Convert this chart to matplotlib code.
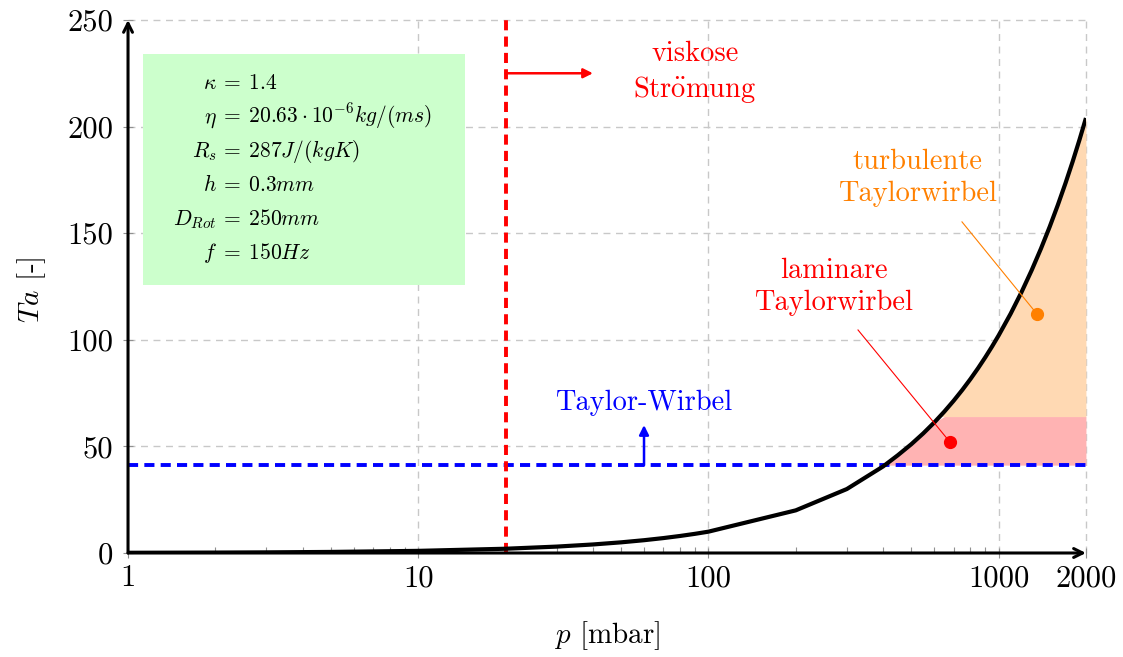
import numpy as np
import matplotlib
matplotlib.use("Agg")
import matplotlib.pyplot as plt
from matplotlib.patches import Rectangle
from matplotlib.ticker import FixedLocator, NullFormatter

plt.rcParams["font.family"] = ["cmr10", "DejaVu Serif"]
plt.rcParams["mathtext.fontset"] = "cm"
plt.rcParams["axes.formatter.use_mathtext"] = True
plt.rcParams["axes.unicode_minus"] = False

# Taylor number over pressure
P_MBAR = [1, 2, 3, 5, 10, 20, 30, 40, 50, 60, 70, 80, 90, 100, 200, 300, 400,
          450, 500, 550, 600, 650, 700, 750, 800, 850, 900, 950, 1000, 1100,
          1200, 1300, 1400, 1500, 1600, 1700, 1800, 1900, 2000]
TA = [0.1, 0.2, 0.3, 0.5, 1.0, 2.0, 3.0, 4.0, 5.0, 6.0, 7.0, 8.0, 9.0, 10.0,
      20.0, 30.0, 40.6, 45.9, 51.0, 56.1, 61.2, 66.3, 71.4, 76.5, 81.6, 86.7,
      91.8, 96.9, 102.0, 112.2, 122.4, 132.6, 142.8, 153.0, 163.2, 173.4,
      183.6, 193.8, 204.0]

TA_CRIT = 41.2      # onset of Taylor vortices
TA_TURB = 64.0      # transition to turbulent vortices
P_VISC = 20         # upper limit of viscous flow [mbar]

X_TICKS = [1, 10, 100, 1000, 2000]
X_TICKLABELS = ["1", "10", "100", "1000", "2000"]
Y_TICKS = [0, 50, 100, 150, 200, 250]
Y_TICKLABELS = ["0", "50", "100", "150", "200", "250"]

PARAM_LHS = [r"$\kappa$", r"$\eta$", r"$R_s$", r"$h$", r"$D_{Rot}$", r"$f$"]
PARAM_RHS = [r"$=\:1.4$", r"$=\:20.63\cdot10^{-6}kg/(ms)$", r"$=\:287J/(kgK)$",
             r"$=\:0.3mm$", r"$=\:250mm$", r"$=\:150Hz$"]

RED = "#ff0000"
BLUE = "#0000ff"
ORANGE = "#ff8000"
PINK_FILL = "#ffb3b3"
ORANGE_FILL = "#ffd9b3"
GREEN_BOX = "#ccffcc"
GRID = "#c8c8c8"
TICK = "#909090"

fig = plt.figure(figsize=(11.23, 6.57), dpi=100)
ax = fig.add_axes([0.114, 0.1583, 0.853, 0.8113])

p = np.array(P_MBAR)
ta = np.array(TA)

ax.set_xscale("log")
ax.set_xlim(1, 2000)
ax.set_ylim(0, 250)

# grid
for gx in X_TICKS[1:]:
    ax.axvline(gx, color=GRID, lw=1.0, ls=(0, (5, 4)), zorder=0, clip_on=False)
for gy in Y_TICKS[1:]:
    ax.axhline(gy, color=GRID, lw=1.0, ls=(0, (5, 4)), zorder=0, clip_on=False)

# regions right of the curve
ax.fill_between(p, TA_CRIT, np.minimum(ta, TA_TURB), where=ta >= TA_CRIT,
                interpolate=True, color=PINK_FILL, lw=0, zorder=1)
ax.fill_between(p, TA_TURB, ta, where=ta >= TA_TURB,
                interpolate=True, color=ORANGE_FILL, lw=0, zorder=1)

# parameter box
ax.add_patch(Rectangle((1.126, 125.7), 14.5 - 1.126, 234 - 125.7,
                       facecolor=GREEN_BOX, edgecolor="none", zorder=1))
for i, (lhs, rhs) in enumerate(zip(PARAM_LHS, PARAM_RHS)):
    yb = 217.6 - i * 15.9
    ax.text(2.02, yb, lhs, ha="right", va="baseline", fontsize=15.5, zorder=5)
    ax.text(2.07, yb, rhs, ha="left", va="baseline", fontsize=15.5, zorder=5)

# critical lines
ax.axhline(TA_CRIT, color=BLUE, lw=2.8, ls=(0, (2.6, 1.6)), zorder=3)
ax.plot([P_VISC, P_VISC], [0, 250], color=RED, lw=2.8, ls=(0, (2.6, 1.6)), zorder=3)

# Ta curve
ax.plot(p, ta, color="black", lw=3, zorder=4, solid_capstyle="butt")

# annotations
ax.annotate("", xy=(40, 225), xytext=(P_VISC, 225),
            arrowprops=dict(arrowstyle="-|>", color=RED, lw=1.8,
                            shrinkA=0, shrinkB=0, mutation_scale=14), zorder=5)
ax.text(90, 225, "viskose\n" + r"Str$\ddot{\mathrm{o}}$mung", color=RED,
        fontsize=20.5, ha="center", va="center", linespacing=1.3)

ax.annotate("", xy=(60, 60), xytext=(60, TA_CRIT),
            arrowprops=dict(arrowstyle="-|>", color=BLUE, lw=1.8,
                            shrinkA=0, shrinkB=0, mutation_scale=14), zorder=5)
ax.text(60, 70.4, "Taylor-Wirbel", color=BLUE, fontsize=20.5,
        ha="center", va="center")

ax.text(270, 124.8, "laminare\nTaylorwirbel", color=RED, fontsize=20.5,
        ha="center", va="center", linespacing=1.3)
ax.plot([327.8, 680], [104.6, 52], color=RED, lw=0.8, zorder=5)
ax.plot([680], [52], "o", color=RED, ms=8.5, zorder=6)

ax.text(527, 175.9, "turbulente\nTaylorwirbel", color=ORANGE, fontsize=20.5,
        ha="center", va="center", linespacing=1.3)
ax.plot([748, 1356], [155.3, 112.1], color=ORANGE, lw=0.8, zorder=5)
ax.plot([1356], [112.1], "o", color=ORANGE, ms=8.5, zorder=6)

# axes as arrows
for s in ax.spines.values():
    s.set_visible(False)
arrow_kw = dict(arrowstyle="->", color="black", lw=2.2, shrinkA=0, shrinkB=0,
                mutation_scale=16)
ax.annotate("", xy=(0, 1), xytext=(0, 0), xycoords="axes fraction",
            arrowprops=arrow_kw, zorder=7, annotation_clip=False)
ax.annotate("", xy=(1, 0), xytext=(0, 0), xycoords="axes fraction",
            arrowprops=arrow_kw, zorder=7, annotation_clip=False)

# ticks
ax.xaxis.set_major_locator(FixedLocator(X_TICKS))
ax.set_xticklabels(X_TICKLABELS)
ax.xaxis.set_minor_formatter(NullFormatter())
ax.set_yticks(Y_TICKS)
ax.set_yticklabels(Y_TICKLABELS)
ax.tick_params(axis="both", which="major", direction="inout", length=7,
               width=0.8, color=TICK, labelsize=22)
ax.tick_params(axis="x", which="major", pad=5)
ax.tick_params(axis="y", which="major", pad=7)
ax.tick_params(axis="x", which="minor", direction="in", length=4,
               width=0.8, color=TICK)

ax.set_xlabel("$p$ [mbar]", fontsize=21)
ax.set_ylabel("$Ta$ [-]", fontsize=21)
ax.xaxis.set_label_coords(0.5, -0.125)
ax.yaxis.set_label_coords(-0.084, 0.493)

fig.savefig("out.png", dpi=100)
